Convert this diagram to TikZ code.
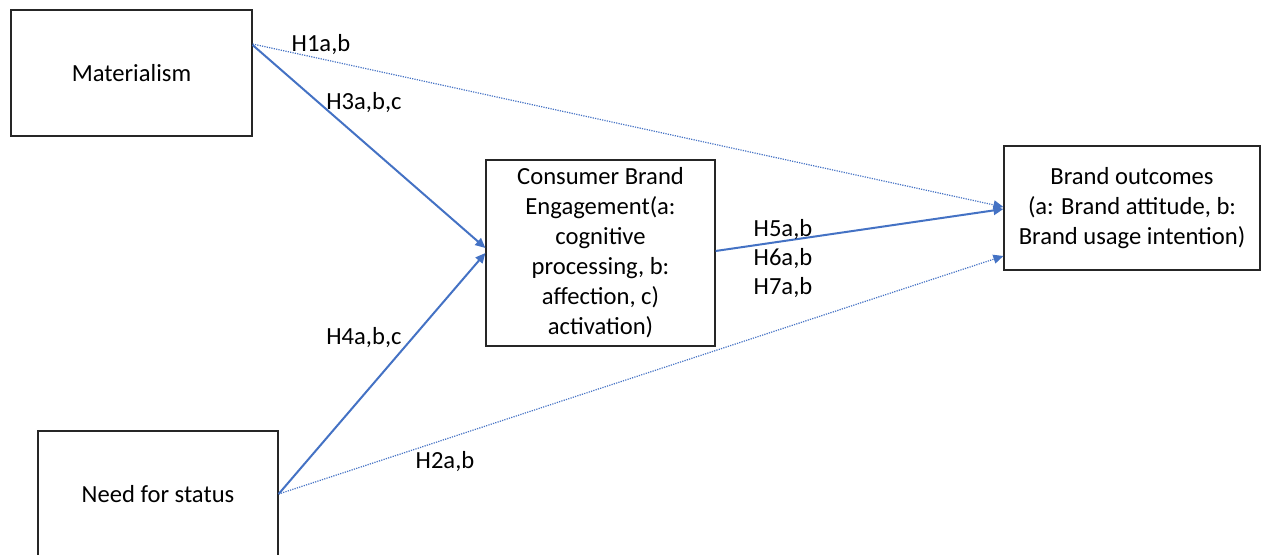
\documentclass[tikz,border=0pt]{standalone}
\usepackage{fontspec}
\setmainfont{Carlito}
\usetikzlibrary{arrows.meta}
\definecolor{offblue}{HTML}{4472C4}
\tikzset{
  box/.style={draw=black!85, line width=0.6pt, fill=white, align=center, inner sep=0pt,
    font=\fontsize{12.3}{15}\selectfont},
  solidarr/.style={draw=offblue, line width=1pt, -{Triangle[length=5pt,width=4.5pt]}},
  dotarr/.style={draw=offblue, line width=0.6pt, dash pattern=on 0.6pt off 0.6pt, -{Triangle[length=5pt,width=4.5pt]}},
  lbl/.style={font=\fontsize{12.3}{15}\selectfont, inner sep=0pt}
}
\begin{document}
\begin{tikzpicture}[x=0.5pt,y=-0.5pt]
\useasboundingbox (0,0) rectangle (1261,555);
\begin{scope}
\clip (0,0) rectangle (1261,555);
\node[box, minimum width=120.5pt, minimum height=63pt] (mat) at (131.5,73) {Materialism};
\node[box, minimum width=120pt, minimum height=63pt] (need) at (158,494) {Need for status};
\node[box, minimum width=114.5pt, minimum height=93pt] (cbe) at (600.5,253)
  {\raisebox{-1pt}{\parbox{110pt}{\centering Consumer Brand\\Engagement(a:\\cognitive\\processing, b:\\affection, c)\\activation)}}};
\node[box, minimum width=128pt, minimum height=62pt] (bo) at (1132,208)
  {\raisebox{-2pt}{\parbox{125pt}{\centering Brand outcomes\\(a: Brand attitude, b:\\Brand usage intention)}}};
\end{scope}

\draw[dotarr] ([yshift=14.5pt]mat.east) -- ([yshift=0.5pt]bo.west);
\draw[solidarr] ([yshift=14pt]mat.east) -- ([yshift=2.5pt]cbe.west);
\draw[solidarr] (need.east) -- ([yshift=0pt]cbe.west);
\draw[dotarr] (need.east) -- ([yshift=-24pt]bo.west);
\draw[solidarr] ([yshift=1pt]cbe.east) -- ([yshift=-0.5pt]bo.west);

\node[lbl] (h1) at (321,45) {H1a,b};
\node[lbl] (h3) at (364,103) {H3a,b,c};
\node[lbl] (h4) at (364,338) {H4a,b,c};
\node[lbl] (h2) at (445,462) {H2a,b};
\node[lbl] (h5) at (783,230) {H5a,b};
\node[lbl] (h6) at (783,259) {H6a,b};
\node[lbl] (h7) at (783,288) {H7a,b};
\end{tikzpicture}
\end{document}
